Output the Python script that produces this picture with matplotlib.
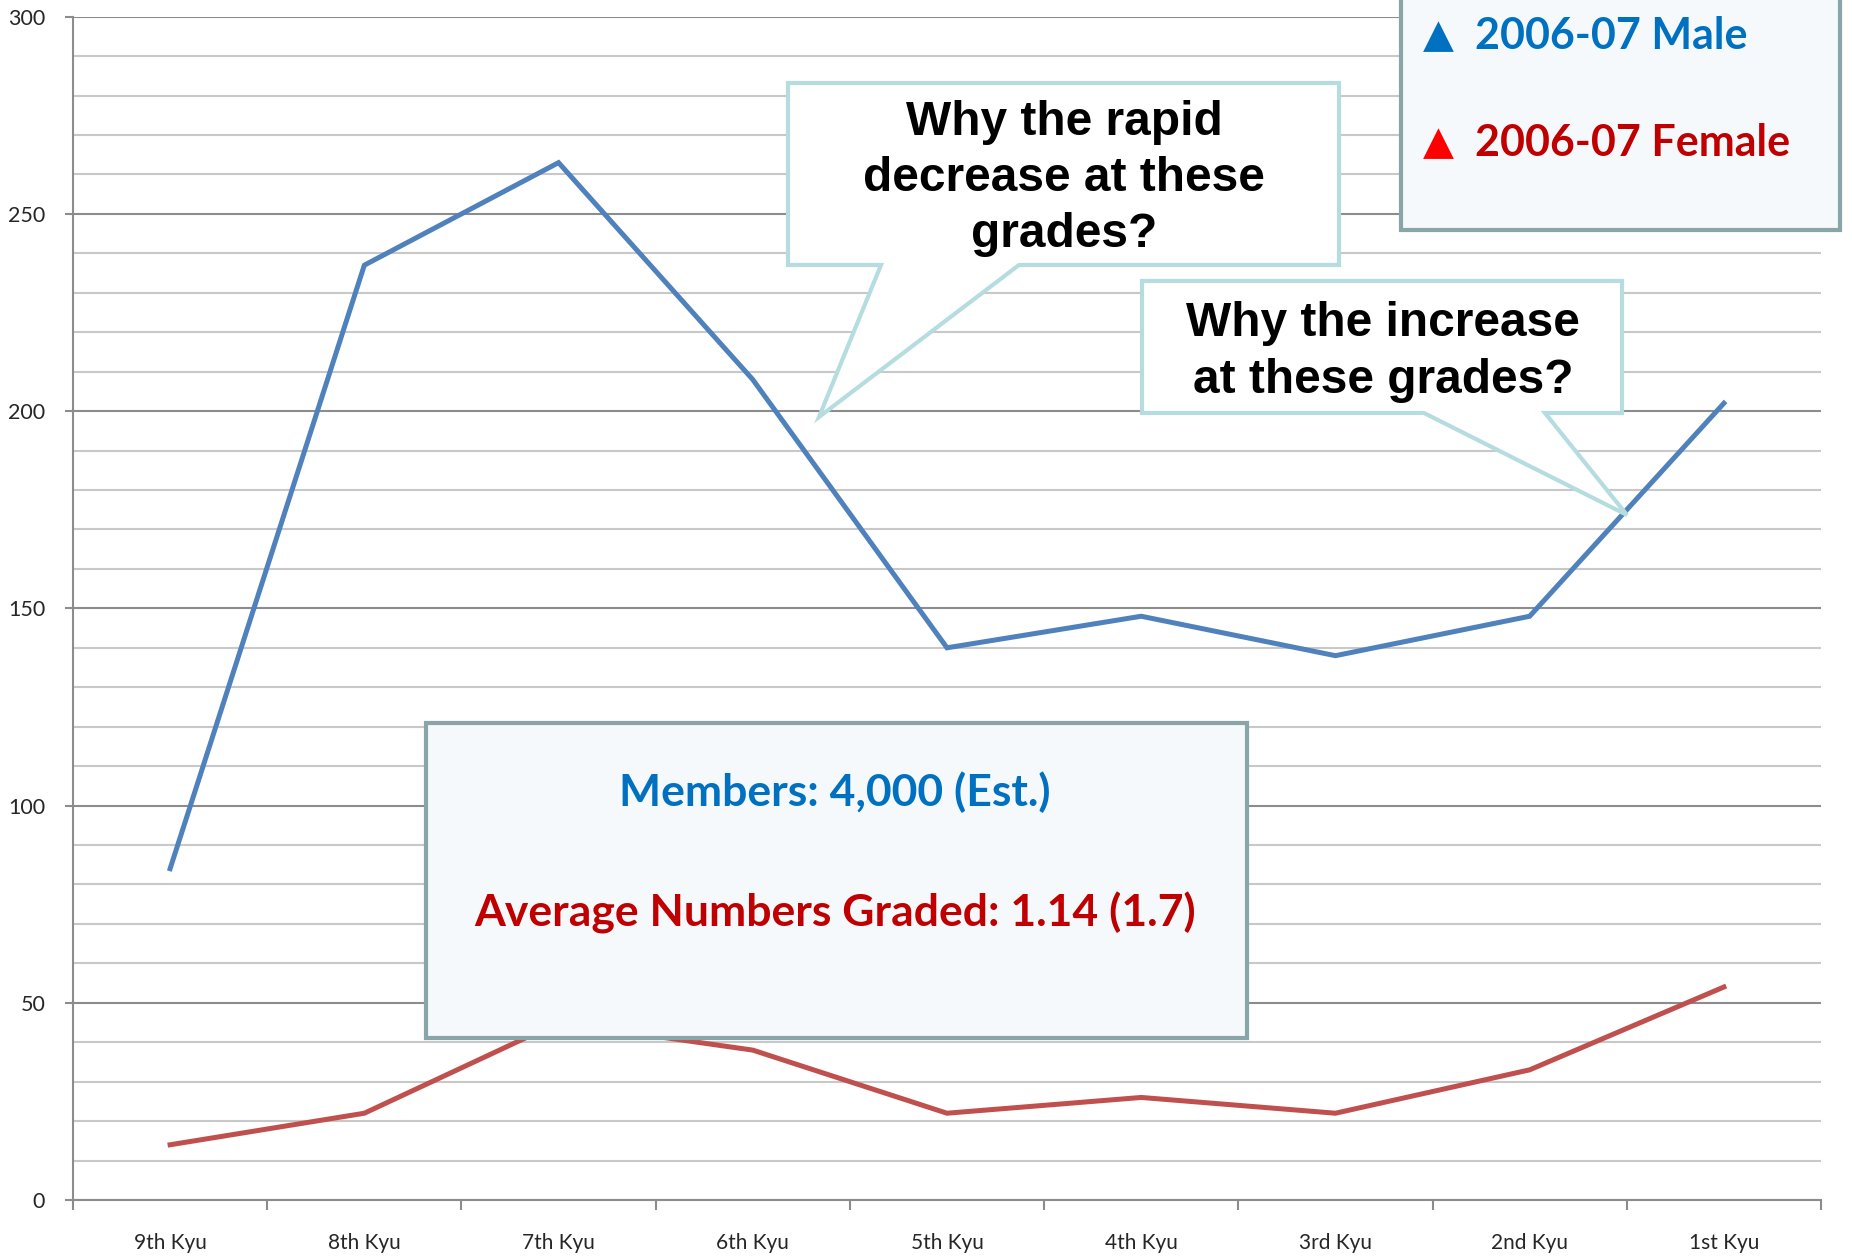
import matplotlib
matplotlib.use("Agg")
import matplotlib.pyplot as plt
from matplotlib.patches import Polygon, Rectangle
from matplotlib.ticker import MultipleLocator, FixedLocator, NullFormatter, FixedFormatter

# ---- data ----
grades = ["9th Kyu", "8th Kyu", "7th Kyu", "6th Kyu", "5th Kyu",
          "4th Kyu", "3rd Kyu", "2nd Kyu", "1st Kyu"]
male = [84, 237, 263, 208, 140, 148, 138, 148, 202]
female = [14, 22, 45, 38, 22, 26, 22, 33, 54]
y_ticks = [0, 50, 100, 150, 200, 250, 300]

legend_labels = ["2006-07 Male", "2006-07 Female"]
info_lines = ["Members: 4,000 (Est.)", "Average Numbers Graded: 1.14 (1.7)"]
callout1_lines = ["Why the rapid", "decrease at these", "grades?"]
callout2_lines = ["Why the increase", "at these grades?"]

W, H = 1852, 1256
fig = plt.figure(figsize=(W / 100, H / 100), dpi=100)
fig.patch.set_facecolor("white")


def fx(x):
    return x / W


def fy(y):
    return 1 - y / H


ax = fig.add_axes([fx(73), fy(1200), fx(1821) - fx(73), fy(16.7) - fy(1200)])
ax.set_facecolor("white")

xs = [i + 0.5 for i in range(len(grades))]
ax.plot(xs, male, color="#4f81bd", lw=3.6, solid_joinstyle="miter", zorder=3)
ax.plot(xs, female, color="#c0504d", lw=3.6, solid_joinstyle="miter", zorder=3)

ax.set_xlim(0, len(grades))
ax.set_ylim(0, 300)

# y axis
ax.yaxis.set_major_locator(FixedLocator(y_ticks))
ax.yaxis.set_minor_locator(MultipleLocator(10))
ax.grid(which="major", axis="y", color="#8c8c8c", lw=1.5, zorder=1)
ax.grid(which="minor", axis="y", color="#c8c8c8", lw=1.5, zorder=1)
ax.tick_params(axis="y", which="major", length=6, width=1.5, color="#8c8c8c",
               labelsize=15.5, labelcolor="#262626", pad=14)
ax.tick_params(axis="y", which="minor", length=0)
for lbl in ax.get_yticklabels():
    lbl.set_family("Lato")

# x axis: ticks at boundaries, labels at centers
ax.xaxis.set_major_locator(FixedLocator(list(range(len(grades) + 1))))
ax.xaxis.set_major_formatter(NullFormatter())
ax.xaxis.set_minor_locator(FixedLocator(xs))
ax.xaxis.set_minor_formatter(FixedFormatter(grades))
ax.tick_params(axis="x", which="major", length=7, width=1.5, color="#8c8c8c")
ax.tick_params(axis="x", which="minor", length=0, labelsize=15,
               labelcolor="#262626", pad=24)
for lbl in ax.xaxis.get_minorticklabels():
    lbl.set_family("Lato")

for s in ["top", "right"]:
    ax.spines[s].set_visible(False)
for s in ["left", "bottom"]:
    ax.spines[s].set_color("#8c8c8c")
    ax.spines[s].set_linewidth(1.5)

# ---- callouts ----
call_edge = "#b5dde0"


def callout(box, base, tip):
    l, t, r, b = box
    verts = [(l, t), (r, t), (r, b), (base[1], b), tip, (base[0], b), (l, b)]
    poly = Polygon([(fx(x), fy(y)) for x, y in verts], closed=True,
                   transform=fig.transFigure, facecolor="white",
                   edgecolor=call_edge, lw=3, joinstyle="miter", zorder=5)
    fig.patches.append(poly)


callout((788, 83, 1339, 265), (881, 1019), (819, 417))
callout((1142, 281, 1622, 413), (1424, 1545), (1627, 515))

for line, yb in zip(callout1_lines, [135, 191, 247]):
    fig.text(fx(1064), fy(yb), line, ha="center", va="baseline",
             fontsize=34.5, fontweight="bold", family="Liberation Sans",
             color="black", zorder=6)
for line, yb in zip(callout2_lines, [336, 393]):
    fig.text(fx(1383), fy(yb), line, ha="center", va="baseline",
             fontsize=34.5, fontweight="bold", family="Liberation Sans",
             color="black", zorder=6)

# ---- boxes ----
box_face = "#f5f9fb"
box_edge = "#8aa5a8"


def rect(l, t, r, b):
    p = Rectangle((fx(l), fy(b)), fx(r) - fx(l), fy(t) - fy(b),
                  transform=fig.transFigure, facecolor=box_face,
                  edgecolor=box_edge, lw=3, zorder=5)
    fig.patches.append(p)


rect(1401, -10, 1840, 230)
rect(426, 723, 1247, 1038)

# legend text
leg_colors = [("#0070c0", "#0070c0"), ("#ff0000", "#c00000")]
for (tri_c, txt_c), label, yc in zip(leg_colors, legend_labels, [36, 143]):
    fig.text(fx(1438), fy(yc), "\u25B2", ha="center", va="center",
             fontsize=29, color=tri_c, family="DejaVu Sans", zorder=6)
    fig.text(fx(1475), fy(yc), label, ha="left", va="center",
             fontsize=31, fontweight="bold", color=txt_c, family="Lato",
             zorder=6)

# info text
fig.text(fx(835), fy(792), info_lines[0], ha="center", va="center",
         fontsize=32, fontweight="bold", color="#0070c0", family="Lato", zorder=6)
fig.text(fx(835), fy(913), info_lines[1], ha="center", va="center",
         fontsize=32, fontweight="bold", color="#c00000", family="Lato", zorder=6)

fig.savefig("out.png", dpi=100, facecolor="white")
